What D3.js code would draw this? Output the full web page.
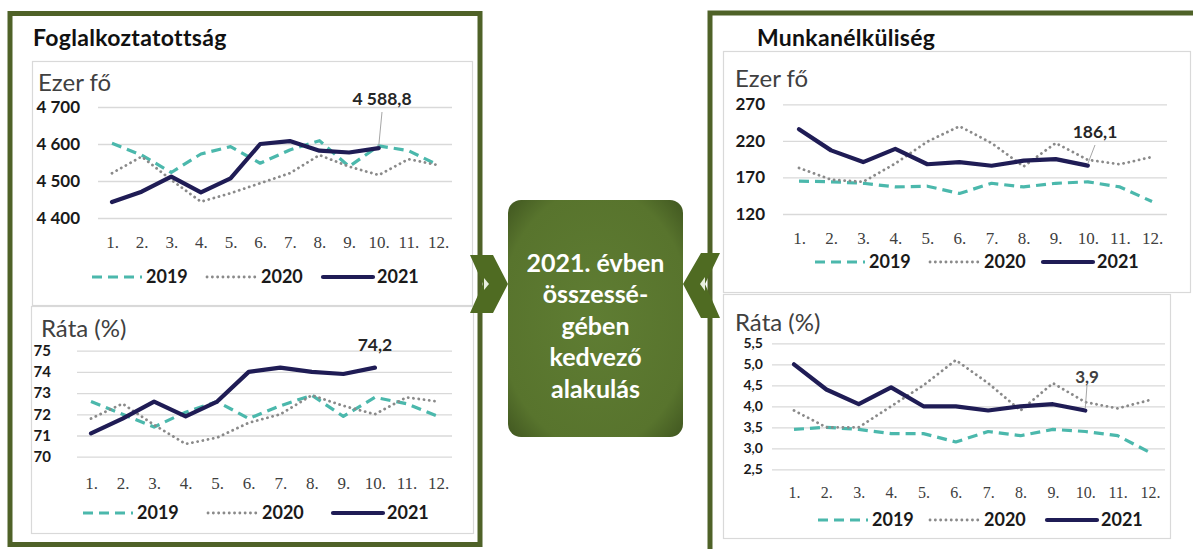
<!DOCTYPE html>
<html><head><meta charset="utf-8">
<script src="https://cdn.jsdelivr.net/npm/d3@7"></script>
<style>
body{margin:0;background:#fff;}
svg{display:block;font-family:Lato,"Open Sans",sans-serif;}
</style>
</head><body>
<svg id="c" width="1193" height="549"></svg>
<script>
// ---------- DATA ----------
const months = ["1.","2.","3.","4.","5.","6.","7.","8.","9.","10.","11.","12."];
const years = ["2019","2020","2021"];

const empCount2019 = [4602,4570,4523,4573,4593,4548,4584,4609,4539,4595,4582,4543];
const empCount2020 = [4521,4566,4503,4444,4467,4494,4521,4570,4539,4516,4559,4543];
const empCount2021 = [4443,4471,4512,4469,4507,4600,4608,4582,4577,4588.8];
const empCountTicks = [4400,4500,4600,4700];

const empRate2019 = [72.6,72.0,71.4,72.1,72.6,71.8,72.4,72.9,71.9,72.8,72.5,71.9];
const empRate2020 = [71.8,72.5,71.5,70.6,70.9,71.6,72.0,72.9,72.4,72.0,72.8,72.6];
const empRate2021 = [71.1,71.8,72.6,71.9,72.6,74.0,74.2,74.0,73.9,74.2];
const empRateTicks = [70,71,72,73,74,75];

const unempCount2019 = [165,164,162,157,158,148,162,157,162,164,157,137];
const unempCount2020 = [183,167,164,189,219,240,217,185,217,194,188,198];
const unempCount2021 = [236,207,191,209,188,191,186,193,195,186.1];
const unempCountTicks = [120,170,220,270];

const unempRate2019 = [3.45,3.5,3.45,3.35,3.35,3.15,3.4,3.3,3.45,3.4,3.3,2.9];
const unempRate2020 = [3.9,3.5,3.5,4.0,4.5,5.1,4.55,3.9,4.55,4.1,3.95,4.15];
const unempRate2021 = [5.0,4.4,4.05,4.45,4.0,4.0,3.9,4.0,4.05,3.9];
const unempRateTicks = [2.5,3.0,3.5,4.0,4.5,5.0,5.5];

const centerText = ["2021. évben","összessé-","gében","kedvező","alakulás"];
const titles = ["Foglalkoztatottság","Munkanélküliség"];

// ---------- SETUP ----------
const svg = d3.select("#c");
const loc = d3.formatLocale({decimal:",", thousands:" ", grouping:[3], currency:["",""]});
const fmtInt = loc.format(",.0f");
const fmt1 = loc.format(",.1f");

const GREEN = "#4f6228";
const seriesStyle = {
  "2019": {stroke:"#4bb8ac", width:3.2, dash:"10,6", cap:"butt"},
  "2020": {stroke:"#8a8a8a", width:2.8, dash:"0.1,5.2", cap:"round"},
  "2021": {stroke:"#1f1c55", width:4.2, dash:null, cap:"round"}
};

// frames
svg.append("rect").attr("x",10).attr("y",13.5).attr("width",470).attr("height",531)
  .attr("fill","none").attr("stroke",GREEN).attr("stroke-width",5);
svg.append("rect").attr("x",710).attr("y",13).attr("width",600).attr("height",600)
  .attr("fill","none").attr("stroke",GREEN).attr("stroke-width",5);

// titles
svg.append("text").attr("x",33).attr("y",46).attr("font-size",23).attr("font-weight",700)
  .attr("letter-spacing",0.3).attr("fill","#111").text(titles[0]);
svg.append("text").attr("x",757).attr("y",46).attr("font-size",23).attr("font-weight",700)
  .attr("letter-spacing",0.3).attr("fill","#111").text(titles[1]);

function drawChart(c){
  const g = svg.append("g");
  g.append("rect").attr("x",c.panel[0]+0.5).attr("y",c.panel[1]+0.5)
    .attr("width",c.panel[2]).attr("height",c.panel[3])
    .attr("fill","#fff").attr("stroke","#d9d9d9").attr("stroke-width",1.2);
  g.append("text").attr("x",c.unitPos[0]).attr("y",c.unitPos[1])
    .attr("font-size",24).attr("fill","#404040").text(c.unit);

  const x = d3.scalePoint().domain(months).range(c.xRange);
  const y = d3.scaleLinear().domain(c.yDomain).range(c.yRange);

  const ya = g.append("g").attr("transform",`translate(${c.grid[0]},0)`)
    .call(d3.axisLeft(y).tickValues(c.ticks).tickFormat(c.tickFmt)
      .tickSize(-(c.grid[1]-c.grid[0])).tickPadding(c.labelPad));
  ya.select(".domain").remove();
  ya.selectAll(".tick line").attr("stroke","#d9d9d9").attr("stroke-width",1.3);
  ya.selectAll(".tick text").attr("font-size",c.yFont).attr("font-weight",700)
    .attr("fill","#1a1a1a").attr("font-family","Lato,sans-serif");

  const xa = g.append("g").attr("transform",`translate(0,${c.xLabelY})`)
    .call(d3.axisBottom(x).tickSize(0).tickPadding(0));
  xa.select(".domain").remove();
  xa.selectAll(".tick text").attr("font-size",c.xFont).attr("fill","#404040")
    .attr("font-family","'Liberation Serif','DejaVu Serif',serif").attr("dy","0.35em");

  const line = d3.line().x((d,i)=>x(months[i])).y(d=>y(d));
  years.forEach((yr,k)=>{
    const s = seriesStyle[yr];
    g.append("path").datum(c.series[k]).attr("d",line).attr("fill","none")
      .attr("stroke",s.stroke).attr("stroke-width",s.width)
      .attr("stroke-dasharray",s.dash).attr("stroke-linecap",s.cap)
      .attr("stroke-linejoin","round");
  });

  // annotation
  const last = c.series[2];
  const li = last.length-1;
  const px = x(months[li]), py = y(last[li]);
  if(c.leader){
    g.append("line").attr("x1",c.annot[0]).attr("y1",c.leader)
      .attr("x2",px).attr("y2",py-2).attr("stroke","#a6a6a6").attr("stroke-width",1);
  }
  g.append("text").attr("x",c.annot[0]).attr("y",c.annot[1]).attr("text-anchor","middle")
    .attr("dy","0.35em").attr("font-size",c.annotFont).attr("font-weight",700)
    .attr("fill",c.annotColor).text(c.annotFmt(last[li]));

  // legend
  years.forEach((yr,k)=>{
    const s = seriesStyle[yr];
    const lx = c.legendX[k];
    g.append("line").attr("x1",lx).attr("x2",lx+50).attr("y1",c.legendY).attr("y2",c.legendY)
      .attr("stroke",s.stroke).attr("stroke-width",s.width)
      .attr("stroke-dasharray",s.dash).attr("stroke-linecap",s.cap);
    g.append("text").attr("x",lx+54).attr("y",c.legendY).attr("dy","0.35em")
      .attr("font-size",18).attr("font-weight",700).attr("fill","#1a1a1a").text(yr);
  });
}

drawChart({panel:[32,61,440,244], unit:"Ezer fő", unitPos:[38,91],
  xRange:[112,438], yDomain:[4400,4700], yRange:[218,107], ticks:empCountTicks,
  tickFmt:fmtInt, grid:[98,452], labelPad:18, yFont:17, xFont:17, xLabelY:242,
  series:[empCount2019,empCount2020,empCount2021],
  annot:[382,99], leader:112, annotFont:17.5, annotColor:"#262626", annotFmt:fmt1,
  legendX:[92,207,323], legendY:277});

drawChart({panel:[31,306,442,227], unit:"Ráta (%)", unitPos:[41,337],
  xRange:[91,438], yDomain:[70,75], yRange:[456.7,350.7], ticks:empRateTicks,
  tickFmt:fmtInt, grid:[77,452], labelPad:26, yFont:15, xFont:17, xLabelY:483,
  series:[empRate2019,empRate2020,empRate2021],
  annot:[375,345], leader:null, annotFont:17.5, annotColor:"#262626", annotFmt:fmt1,
  legendX:[83,208,333], legendY:513});

drawChart({panel:[723,51,467,241], unit:"Ezer fő", unitPos:[735,87],
  xRange:[799,1152], yDomain:[120,270], yRange:[214,104.3], ticks:unempCountTicks,
  tickFmt:fmtInt, grid:[783,1167], labelPad:18, yFont:17, xFont:17, xLabelY:238,
  series:[unempCount2019,unempCount2020,unempCount2021],
  annot:[1095,132], leader:145, annotFont:17.5, annotColor:"#262626", annotFmt:fmt1,
  legendX:[815,930,1043], legendY:262});

drawChart({panel:[723,294,447,244], unit:"Ráta (%)", unitPos:[735,331],
  xRange:[794,1150], yDomain:[2.5,5.5], yRange:[469.3,343.3], ticks:unempRateTicks,
  tickFmt:loc.format(".1f"), grid:[772,1165], labelPad:9, yFont:14, xFont:16, xLabelY:492,
  series:[unempRate2019,unempRate2020,unempRate2021],
  annot:[1087,377], leader:385, annotFont:17, annotColor:"#404040", annotFmt:fmt1,
  legendX:[818,930,1047], legendY:520});

// center box
const defs = svg.append("defs");
const rg = defs.append("radialGradient").attr("id","boxg").attr("cx","50%").attr("cy","50%").attr("r","68%");
rg.append("stop").attr("offset","0%").attr("stop-color","#5f7d33");
rg.append("stop").attr("offset","80%").attr("stop-color","#58742d");
rg.append("stop").attr("offset","100%").attr("stop-color","#445b22");
svg.append("rect").attr("x",508).attr("y",200).attr("width",175).attr("height",237)
  .attr("rx",13).attr("fill","url(#boxg)");
svg.append("g").selectAll("text").data(centerText).join("text")
  .attr("x",595.5).attr("y",(d,i)=>263+i*31.5).attr("dy","0.35em")
  .attr("text-anchor","middle").attr("font-size",25).attr("font-weight",700)
  .attr("fill","#fff").text(d=>d);

// chevrons
const CHEV = "#4f6b22";
svg.append("polygon").attr("points","470,255 493,255 508,284 493,313 470,313 483,284").attr("fill",CHEV);
svg.append("polygon").attr("points","484,278 489,284 484,290").attr("fill","#e9efe0");
svg.append("polygon").attr("points","720,253 701,253 683,284 701,318 720,318 705,284").attr("fill",CHEV);
svg.append("polygon").attr("points","705,277 700,284 705,291").attr("fill","#e9efe0");
</script>
</body></html>
